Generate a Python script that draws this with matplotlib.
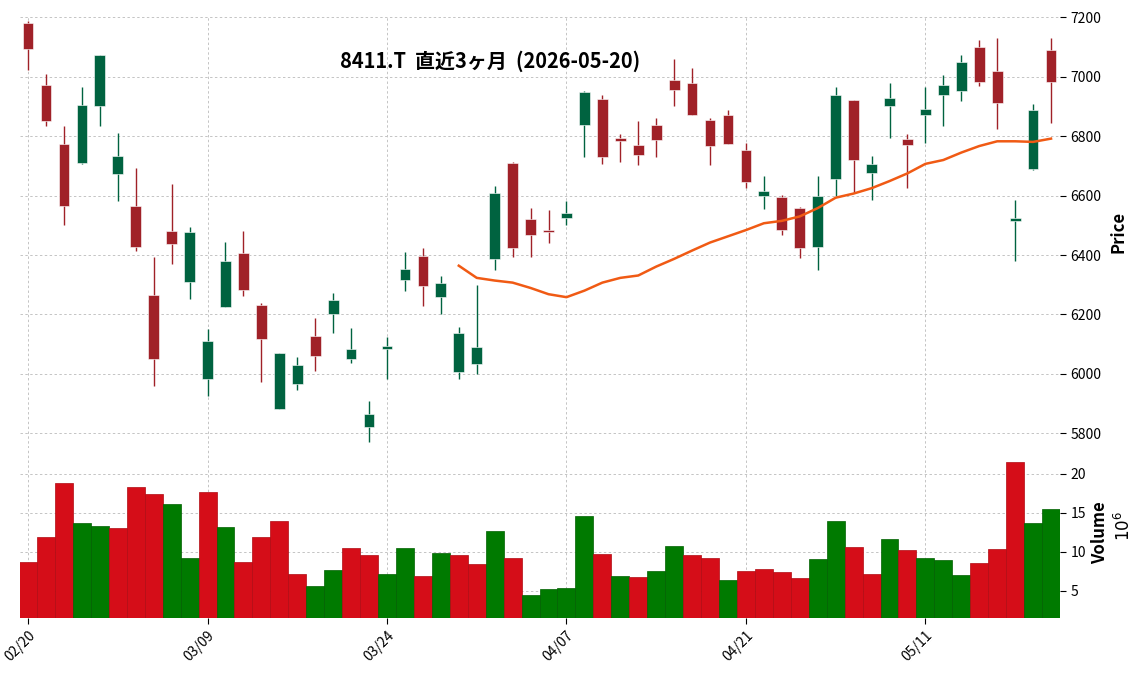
import matplotlib
matplotlib.use("Agg")
import matplotlib.pyplot as plt
import numpy as np

plt.rcParams['font.family'] = ['Noto Sans CJK JP', 'DejaVu Sans']

# trading days shown on the chart
dates = ["02/20", "02/24", "02/25", "02/26", "02/27", "03/02", "03/03", "03/04", "03/05", "03/06",
         "03/09", "03/10", "03/11", "03/12", "03/13", "03/16", "03/17", "03/18", "03/19", "03/23",
         "03/24", "03/25", "03/26", "03/27", "03/30", "03/31", "04/01", "04/02", "04/03", "04/06",
         "04/07", "04/08", "04/09", "04/10", "04/13", "04/14", "04/15", "04/16", "04/17", "04/20",
         "04/21", "04/22", "04/23", "04/24", "04/27", "04/28", "04/30", "05/01", "05/07", "05/08",
         "05/11", "05/12", "05/13", "05/14", "05/15", "05/18", "05/19", "05/20"]

opens = [7182, 6971, 6773, 6710, 6902, 6674, 6565, 6264, 6482, 6309,
         5984, 6226, 6408, 6230, 5882, 5966, 6126, 6201, 6050, 5822,
         6082, 6315, 6398, 6258, 6007, 6033, 6386, 6710, 6522, 6484,
         6523, 6838, 6924, 6793, 6770, 6837, 6991, 6981, 6854, 6870,
         6753, 6600, 6596, 6559, 6428, 6656, 6921, 6676, 6902, 6790,
         6871, 6939, 6953, 7102, 7021, 6513, 6691, 7092]
highs = [7188, 7010, 6833, 6967, 7075, 6812, 6692, 6393, 6638, 6494,
         6152, 6444, 6482, 6239, 6069, 6055, 6189, 6273, 6155, 5907,
         6124, 6410, 6424, 6330, 6159, 6300, 6631, 6712, 6558, 6551,
         6582, 6951, 6939, 6809, 6853, 6860, 7060, 7030, 6862, 6890,
         6776, 6665, 6601, 6561, 6665, 6967, 6923, 6732, 6980, 6809,
         6967, 7007, 7074, 7124, 7132, 6584, 6910, 7132]
lows = [7024, 6833, 6501, 6708, 6833, 6581, 6415, 5959, 6370, 6253,
        5926, 6224, 6263, 5971, 5880, 5944, 6009, 6139, 6035, 5770,
        5984, 6279, 6227, 6202, 5981, 5998, 6348, 6393, 6393, 6440,
        6501, 6730, 6705, 6712, 6703, 6730, 6903, 6870, 6702, 6773,
        6625, 6554, 6467, 6391, 6350, 6600, 6608, 6585, 6794, 6625,
        6776, 6833, 6920, 6970, 6826, 6381, 6685, 6846]
closes = [7093, 6851, 6566, 6904, 7073, 6733, 6427, 6051, 6436, 6478,
          6109, 6381, 6282, 6116, 6069, 6029, 6060, 6250, 6083, 5865,
          6094, 6352, 6296, 6307, 6136, 6089, 6609, 6423, 6466, 6476,
          6542, 6949, 6731, 6785, 6736, 6788, 6956, 6872, 6768, 6775,
          6647, 6616, 6483, 6425, 6600, 6938, 6720, 6706, 6928, 6771,
          6891, 6971, 7051, 6982, 6912, 6525, 6887, 6982]

# volume in millions of shares
volumes = [8.73, 11.94, 18.75, 13.74, 13.36, 13.10, 18.24, 17.34, 16.06, 9.24,
           17.60, 13.23, 8.73, 11.94, 14.00, 7.19, 5.64, 7.70, 10.53, 9.63,
           7.19, 10.53, 6.93, 9.89, 9.63, 8.47, 12.71, 9.24, 4.49, 5.26,
           5.39, 14.64, 9.76, 6.93, 6.80, 7.57, 10.79, 9.63, 9.24, 6.41,
           7.57, 7.83, 7.44, 6.67, 9.11, 14.00, 10.66, 7.19, 11.68, 10.27,
           9.24, 8.98, 7.06, 8.60, 10.40, 21.45, 13.74, 15.54]

# 25-day moving average, starts at the 25th session
ma_start = 24
ma25 = [6364, 6323, 6314, 6307, 6289, 6268, 6258, 6280, 6307, 6323,
        6331, 6361, 6387, 6415, 6442, 6463, 6484, 6507, 6515, 6530,
        6558, 6593, 6607, 6625, 6649, 6675, 6707, 6720, 6745, 6767,
        6783, 6783, 6781, 6792]

UP, DOWN = "#006340", "#a02128"
VUP, VDOWN = "#007a00", "#d50d18"

o = np.array(opens, float)
h = np.array(highs, float)
l = np.array(lows, float)
c = np.array(closes, float)
x = np.arange(len(dates))

fig = plt.figure(figsize=(11.44, 6.75), dpi=100)
left, width = 20 / 1144, 1040 / 1144
ax1 = fig.add_axes([left, 227 / 675, width, 432 / 675])
ax2 = fig.add_axes([left, 57 / 675, width, 170 / 675], sharex=ax1)

for ax in (ax1, ax2):
    ax.set_axisbelow(True)
    ax.grid(True, linestyle=(0, (2.5, 2.5)), color="#c4c4c4", linewidth=0.7)
    for s in ax.spines.values():
        s.set_visible(False)
    ax.yaxis.tick_right()
    ax.yaxis.set_label_position("right")
    ax.tick_params(axis="both", labelsize=10, length=4, color="black")

# candles
ccol = [UP if cc >= oo else DOWN for oo, cc in zip(o, c)]
ax1.vlines(x, l, h, colors=ccol, linewidth=1.0, zorder=2)
ax1.bar(x, np.maximum(np.abs(c - o), 2), bottom=np.minimum(o, c), width=0.6,
        color=ccol, edgecolor="white", linewidth=0.4, zorder=3)

ax1.plot(x[ma_start:], ma25, color="#f05a14", linewidth=1.8, zorder=4)

ax1.set_ylim(5750, 7205)
ax1.set_yticks(np.arange(5800, 7201, 200))
ax1.set_ylabel("Price", fontsize=12, fontweight="bold", labelpad=6)
ax1.tick_params(axis="x", bottom=False, labelbottom=False)

# volume coloured by close vs previous close
vcol = [VUP if c[0] > o[0] else VDOWN] + [VUP if c[i] > c[i - 1] else VDOWN for i in range(1, len(c))]
vedge = ["#006000" if v == VUP else "#b00a12" for v in vcol]
ax2.bar(x, volumes, width=1.0, color=vcol, edgecolor=vedge, linewidth=0.5, zorder=2)
ax2.set_ylim(1.5, 23.3)
ax2.set_yticks([5, 10, 15, 20])
ax2.set_ylabel("Volume", fontsize=12, fontweight="bold", labelpad=4)
fig.text(1124 / 1144, 1 - 526 / 675, "$10^{6}$", rotation=90, fontsize=12, ha="center", va="center")

ax2.set_xlim(-0.45, len(dates) - 0.5)
ticks = x[::10]
ax2.set_xticks(ticks)
ax2.set_xticklabels([dates[i] for i in ticks], rotation=45, ha="right", rotation_mode="anchor")

fig.text(490 / 1144, 614 / 675, "8411.T  直近3ヶ月  (2026-05-20)", fontsize=14.4,
         fontweight="bold", ha="center", va="center")

fig.savefig("out.png", dpi=100)
